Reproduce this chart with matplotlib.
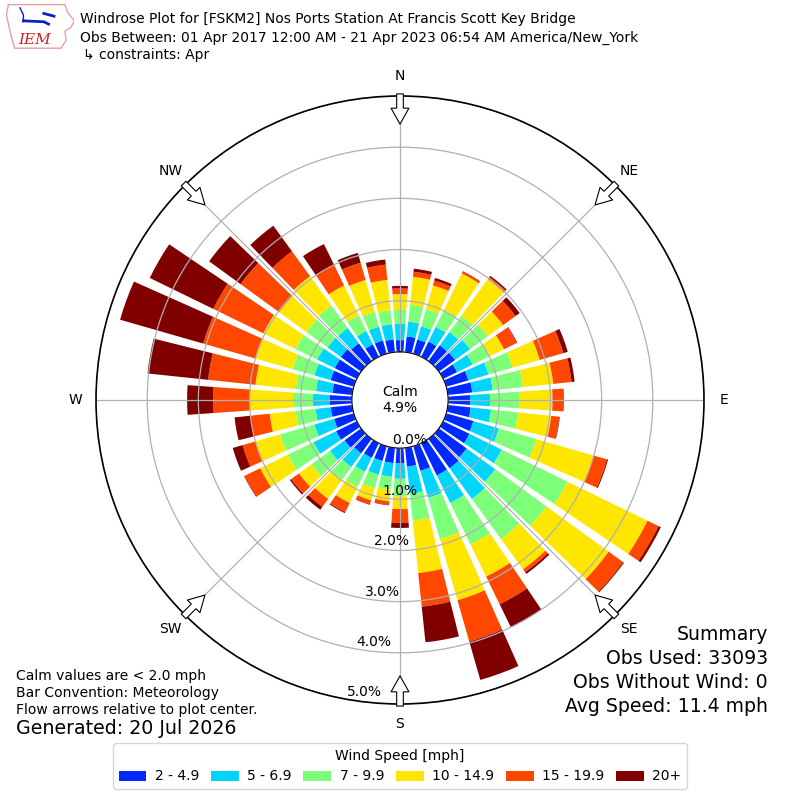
import matplotlib
matplotlib.use('Agg')
import matplotlib.pyplot as plt
import numpy as np

# wind direction (deg, meteorological) and percent of obs in each speed bin
directions = np.arange(0, 360, 10)
speed_bins = ["2 - 4.9", "5 - 6.9", "7 - 9.9", "10 - 14.9", "15 - 19.9", "20+"]

bin_2_5 = [0.23, 0.31, 0.29, 0.33, 0.38, 0.39, 0.30, 0.45, 0.48, 0.43, 0.45, 0.55,
           0.57, 0.67, 0.71, 0.70, 0.50, 0.37, 0.30, 0.30, 0.30, 0.32, 0.35, 0.40,
           0.45, 0.40, 0.42, 0.43, 0.39, 0.47, 0.48, 0.49, 0.43, 0.27, 0.27, 0.25]
bin_5_7 = [0.32, 0.29, 0.27, 0.32, 0.32, 0.36, 0.34, 0.41, 0.40, 0.39, 0.40, 0.52,
           0.70, 0.69, 0.74, 0.60, 0.55, 0.53, 0.30, 0.27, 0.28, 0.30, 0.33, 0.35,
           0.49, 0.40, 0.30, 0.33, 0.32, 0.33, 0.38, 0.32, 0.37, 0.29, 0.28, 0.30]
bin_7_10 = [0.27, 0.33, 0.35, 0.37, 0.40, 0.43, 0.38, 0.49, 0.59, 0.58, 0.53, 0.76,
            1.43, 1.24, 0.97, 0.90, 0.84, 0.53, 0.34, 0.25, 0.27, 0.33, 0.32, 0.45,
            0.56, 0.70, 0.39, 0.39, 0.40, 0.44, 0.47, 0.51, 0.54, 0.34, 0.30, 0.27]
bin_10_15 = [0.31, 0.55, 0.48, 0.79, 0.88, 0.37, 0.30, 0.55, 0.60, 0.64, 0.65, 1.17,
             1.74, 1.50, 0.73, 0.70, 1.24, 1.03, 0.25, 0.23, 0.25, 0.35, 0.45, 0.30,
             0.60, 0.50, 0.51, 0.84, 0.79, 0.76, 0.70, 0.66, 0.71, 0.65, 0.65, 0.60]
bin_15_20 = [0.11, 0.10, 0.10, 0.04, 0.05, 0.30, 0.28, 0.48, 0.36, 0.21, 0.16, 0.27,
             0.24, 0.35, 0.07, 0.60, 0.84, 0.66, 0.27, 0.07, 0.08, 0.20, 0.19, 0.19,
             0.34, 0.26, 0.38, 0.72, 0.93, 1.06, 1.09, 0.93, 0.60, 0.45, 0.35, 0.30]
bin_20_up = [0.05, 0.06, 0.05, 0.01, 0.03, 0.10, 0.01, 0.09, 0.06, 0.01, 0.01, 0.02,
             0.05, 0.02, 0.04, 0.50, 0.78, 0.70, 0.10, 0.01, 0.01, 0.02, 0.07, 0.03,
             0.01, 0.20, 0.31, 0.51, 1.19, 1.69, 1.38, 0.76, 0.62, 0.45, 0.20, 0.10]

calm_pct = 4.9
radial_ticks = [0, 1, 2, 3, 4, 5]
compass = ["N", "NE", "E", "SE", "S", "SW", "W", "NW"]

series = [bin_2_5, bin_5_7, bin_7_10, bin_10_15, bin_15_20, bin_20_up]

fig = plt.figure(figsize=(8, 8), dpi=100)
ax = fig.add_axes([0.12, 0.12, 0.76, 0.76], projection='polar')
ax.set_theta_zero_location('N')
ax.set_theta_direction(-1)

theta = np.deg2rad(directions)
colors = plt.cm.jet(np.linspace(0, 1, 7)[1:])
bottom = np.zeros(len(directions))
bars = []
for vals, c, lbl in zip(series, colors, speed_bins):
    b = ax.bar(theta, vals, width=np.deg2rad(8), bottom=bottom, color=c,
               label=lbl, linewidth=0)
    bottom = bottom + np.array(vals)
    bars.append(b)

ax.set_ylim(0, 5)
ax.set_rorigin(-0.94)
ax.set_yticks(radial_ticks)
ax.set_yticklabels(["%.1f%%" % t for t in radial_ticks], fontsize=10)
ax.set_rlabel_position(190)
ax.set_xticks(np.deg2rad(np.arange(0, 360, 45)))
ax.set_xticklabels(compass, fontsize=10)
ax.tick_params(axis='x', pad=4)
ax.grid(color='#b0b0b0', linewidth=0.9)
ax.spines['polar'].set_linewidth(1.2)

# flow arrows at the compass points
for ang in np.arange(0, 360, 45):
    ax.annotate('', xy=(np.deg2rad(ang), 4.45), xytext=(np.deg2rad(ang), 5.04),
                arrowprops=dict(facecolor='white', edgecolor='black', width=4.8,
                                headwidth=12.8, headlength=11.5, shrink=0,
                                linewidth=0.8))

ax.text(0.5, 0.5, "Calm\n%.1f%%" % calm_pct, transform=ax.transAxes,
        ha='center', va='center', fontsize=10, zorder=5)

fig.legend(handles=bars, labels=speed_bins, loc='lower center',
           bbox_to_anchor=(0.5, 0.005), ncol=6, title='Wind Speed [mph]',
           fontsize=10, title_fontsize=10, columnspacing=0.85, handletextpad=0.6)

fig.text(0.1, 1 - 19 / 800, "Windrose Plot for [FSKM2] Nos Ports Station At Francis Scott Key Bridge",
         fontsize=10, va='center')
fig.text(0.1, 1 - 38 / 800, "Obs Between: 01 Apr 2017 12:00 AM - 21 Apr 2023 06:54 AM America/New_York",
         fontsize=10, va='center')
fig.text(0.104, 1 - 55 / 800, "\u21b3 constraints: Apr", fontsize=10, va='center')

fig.text(0.02, 1 - 676 / 800, "Calm values are < 2.0 mph", fontsize=10, va='center')
fig.text(0.02, 1 - 693 / 800, "Bar Convention: Meteorology", fontsize=10, va='center')
fig.text(0.02, 1 - 710 / 800, "Flow arrows relative to plot center.", fontsize=10, va='center')
fig.text(0.02, 1 - 729 / 800, "Generated: 20 Jul 2026", fontsize=13.7, va='center')

fig.text(0.96, 1 - 635 / 800, "Summary", fontsize=13.6, ha='right', va='center')
fig.text(0.96, 1 - 659 / 800, "Obs Used: 33093", fontsize=13.6, ha='right', va='center')
fig.text(0.96, 1 - 683 / 800, "Obs Without Wind: 0", fontsize=13.6, ha='right', va='center')
fig.text(0.96, 1 - 706 / 800, "Avg Speed: 11.4 mph", fontsize=13.6, ha='right', va='center')

# rough IEM logo
lax = fig.add_axes([0.008, 0.938, 0.085, 0.058])
lax.axis('off')
lax.set_xlim(0, 1)
lax.set_ylim(0, 1)
iowa_x = [0.03, 0.86, 0.9, 1.0, 0.95, 0.86, 0.88, 0.8, 0.12, 0.06, 0.0, 0.03]
iowa_y = [0.97, 0.97, 0.8, 0.62, 0.48, 0.4, 0.2, 0.03, 0.03, 0.35, 0.75, 0.97]
lax.plot(iowa_x, iowa_y, color='#e8a0a0', linewidth=1)
lax.plot([0.25, 0.55, 0.62], [0.62, 0.6, 0.55], color='#1020c0', linewidth=2)
lax.plot([0.2, 0.25, 0.25], [0.9, 0.75, 0.6], color='#1020c0', linewidth=1)
lax.plot([0.55, 0.7], [0.78, 0.72], color='#1020c0', linewidth=2)
lax.text(0.42, 0.2, "IEM", color='#d02020', fontsize=11, style='italic',
         family='serif', ha='center', va='center')

fig.savefig('out.png', dpi=100)
